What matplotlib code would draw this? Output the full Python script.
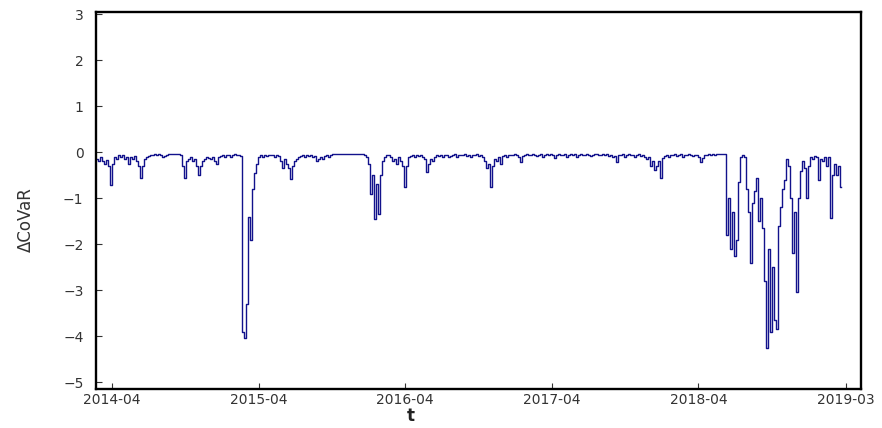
from matplotlib import pyplot as plt
import numpy as np

## Delta CoVaR series, one reading every few trading days
covar = [
    -0.15, -0.2, -0.1, -0.2, -0.25, -0.18, -0.3, -0.72, -0.25, -0.1,
    -0.15, -0.05, -0.1, -0.05, -0.15, -0.1, -0.25, -0.1, -0.15, -0.08,
    -0.2, -0.3, -0.55, -0.3, -0.15, -0.1, -0.08, -0.05, -0.05, -0.04,
    -0.05, -0.04, -0.06, -0.1, -0.08, -0.05, -0.04, -0.04, -0.04, -0.04,
    -0.04, -0.04, -0.05, -0.3, -0.55, -0.2, -0.15, -0.1, -0.2, -0.15,
    -0.3, -0.5, -0.3, -0.2, -0.15, -0.1, -0.12, -0.15, -0.1, -0.2,
    -0.25, -0.1, -0.08, -0.05, -0.1, -0.05, -0.05, -0.1, -0.05, -0.04,
    -0.05, -0.05, -0.08, -3.9, -4.05, -3.3, -1.4, -1.9, -0.8, -0.45,
    -0.25, -0.1, -0.05, -0.1, -0.05, -0.08, -0.05, -0.06, -0.05, -0.1,
    -0.05, -0.08, -0.2, -0.35, -0.15, -0.25, -0.35, -0.58, -0.3, -0.2,
    -0.15, -0.1, -0.08, -0.05, -0.1, -0.05, -0.08, -0.05, -0.1, -0.08,
    -0.2, -0.15, -0.1, -0.15, -0.08, -0.05, -0.1, -0.05, -0.04, -0.03,
    -0.03, -0.04, -0.03, -0.03, -0.03, -0.04, -0.03, -0.03, -0.03, -0.04,
    -0.03, -0.03, -0.04, -0.04, -0.05, -0.1, -0.25, -0.9, -0.5, -1.45,
    -0.7, -1.35, -0.5, -0.2, -0.1, -0.06, -0.05, -0.1, -0.2, -0.15,
    -0.25, -0.1, -0.2, -0.3, -0.75, -0.3, -0.1, -0.08, -0.05, -0.1,
    -0.05, -0.08, -0.05, -0.1, -0.15, -0.42, -0.25, -0.15, -0.2, -0.1,
    -0.05, -0.08, -0.05, -0.1, -0.06, -0.05, -0.1, -0.08, -0.05, -0.04,
    -0.1, -0.05, -0.06, -0.05, -0.04, -0.08, -0.05, -0.1, -0.06, -0.05,
    -0.04, -0.08, -0.05, -0.1, -0.2, -0.35, -0.25, -0.75, -0.3, -0.15,
    -0.2, -0.1, -0.25, -0.08, -0.05, -0.1, -0.05, -0.06, -0.05, -0.04,
    -0.06, -0.1, -0.22, -0.08, -0.05, -0.04, -0.06, -0.05, -0.04, -0.05,
    -0.08, -0.05, -0.04, -0.1, -0.05, -0.04, -0.05, -0.04, -0.06, -0.12,
    -0.05, -0.04, -0.05, -0.06, -0.04, -0.1, -0.05, -0.04, -0.05, -0.04,
    -0.1, -0.05, -0.04, -0.05, -0.06, -0.04, -0.05, -0.08, -0.05, -0.04,
    -0.04, -0.05, -0.06, -0.04, -0.05, -0.04, -0.08, -0.05, -0.1, -0.08,
    -0.22, -0.06, -0.05, -0.04, -0.1, -0.05, -0.04, -0.06, -0.05, -0.1,
    -0.05, -0.04, -0.08, -0.05, -0.1, -0.15, -0.1, -0.3, -0.2, -0.38,
    -0.3, -0.2, -0.55, -0.12, -0.08, -0.05, -0.1, -0.06, -0.05, -0.04,
    -0.08, -0.05, -0.04, -0.1, -0.06, -0.05, -0.04, -0.05, -0.08, -0.05,
    -0.06, -0.1, -0.22, -0.12, -0.06, -0.05, -0.04, -0.05, -0.04, -0.05,
    -0.04, -0.03, -0.04, -0.03, -0.04, -1.8, -1.0, -2.1, -1.3, -2.25,
    -1.9, -0.65, -0.1, -0.05, -0.1, -0.8, -1.3, -2.4, -1.1, -0.85,
    -0.55, -1.5, -1.0, -1.65, -2.8, -4.25, -2.1, -3.9, -2.5, -3.65,
    -3.85, -1.6, -1.2, -0.8, -0.6, -0.15, -0.3, -1.0, -2.2, -1.3,
    -3.05, -1.0, -0.4, -0.2, -0.35, -1.0, -0.3, -0.1, -0.15, -0.08,
    -0.1, -0.6, -0.15, -0.2, -0.1, -0.3, -0.1, -1.42, -0.5, -0.25,
    -0.5, -0.3, -0.75,
]
tick_labels = ['2014-04', '2015-04', '2016-04', '2017-04', '2018-04', '2019-03']
tick_pos = [7.5, 80.8, 154.1, 227.4, 300.7, 374.5]
y_ticks = [-5, -4, -3, -2, -1, 0, 1, 2, 3]

t = np.arange(len(covar))

fig = plt.figure(figsize=(8.82, 4.28), dpi=100)
ax = fig.add_axes([0.1088, 0.0911, 0.8674, 0.8809])

ax.plot(t, covar, color='#12128c', lw=1.0, drawstyle='steps-mid')

ax.set_xlim(-0.5, 382)
ax.set_ylim(-5.15, 3.05)
ax.set_xticks(tick_pos)
ax.set_xticklabels(tick_labels)
ax.set_yticks(y_ticks)

for s in ax.spines.values():
    s.set_linewidth(1.7)
    s.set_color('black')

ax.tick_params(axis='both', direction='in', length=4, width=0.8,
               labelsize=10, labelcolor='#333333', colors='#333333')
ax.tick_params(axis='x', pad=3)
ax.tick_params(axis='y', pad=9)

ax.set_xlabel('t', fontsize=12, fontweight='bold', color='#222222')
ax.xaxis.set_label_coords(0.412, -0.047)
ax.set_ylabel('ΔCoVaR', fontsize=12, color='#333333')
ax.yaxis.set_label_coords(-0.08, 0.45)

fig.savefig('out.png', dpi=100)
